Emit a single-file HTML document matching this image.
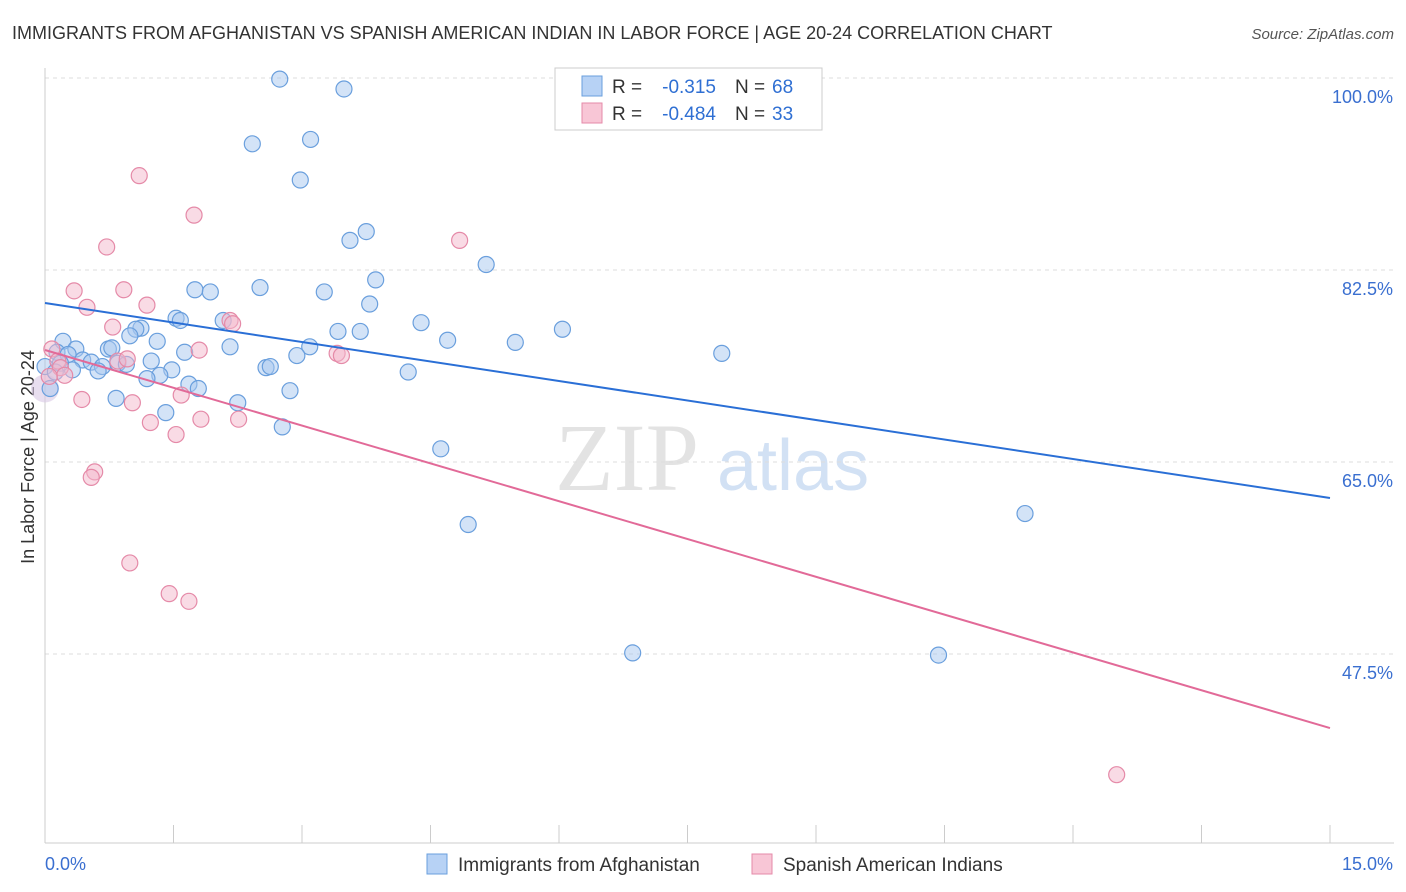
<!DOCTYPE html>
<html><head><meta charset="utf-8">
<style>
body{margin:0;background:#fff;font-family:"Liberation Sans",sans-serif;}
svg{display:block}
</style></head>
<body>
<svg id="chart" width="1406" height="892" viewBox="0 0 1406 892" xmlns="http://www.w3.org/2000/svg">
<text x="12" y="39" font-size="18" fill="#333">IMMIGRANTS FROM AFGHANISTAN VS SPANISH AMERICAN INDIAN IN LABOR FORCE | AGE 20-24 CORRELATION CHART</text>
<text x="1394" y="39" font-size="15" fill="#555" font-style="italic" text-anchor="end">Source: ZipAtlas.com</text>
<text x="555" y="490" font-size="96" fill="#ddd" font-family="Liberation Serif,serif" opacity="0.8">ZIP</text>
<text x="717" y="490" font-size="72" fill="#c8daf2" opacity="0.8">atlas</text>
<text transform="translate(34,457) rotate(-90)" font-size="18" fill="#333" text-anchor="middle">In Labor Force | Age 20-24</text>
<g id="grid"></g>
<g id="axes"></g>
<g id="pts"></g>
<g id="lines"></g>
<g>
<rect x="555" y="68" width="267" height="62" fill="#fff" stroke="#ccc"/>
<rect x="582" y="76" width="20" height="20" fill="#b7d2f5" stroke="#6a9fdd"/>
<rect x="582" y="103" width="20" height="20" fill="#f8c6d6" stroke="#e58aa8"/>
<text x="612" y="93" font-size="19" fill="#333">R =</text>
<text x="716" y="93" font-size="19" fill="#2f6fd3" text-anchor="end">-0.315</text>
<text x="735" y="93" font-size="19" fill="#333">N =</text>
<text x="772" y="93" font-size="19" fill="#2f6fd3">68</text>
<text x="612" y="120" font-size="19" fill="#333">R =</text>
<text x="716" y="120" font-size="19" fill="#2f6fd3" text-anchor="end">-0.484</text>
<text x="735" y="120" font-size="19" fill="#333">N =</text>
<text x="772" y="120" font-size="19" fill="#2f6fd3">33</text>
</g>
<g>
<rect x="427" y="854" width="20" height="20" fill="#b7d2f5" stroke="#6a9fdd"/>
<text x="458" y="871" font-size="19" fill="#333">Immigrants from Afghanistan</text>
<rect x="752" y="854" width="20" height="20" fill="#f8c6d6" stroke="#e58aa8"/>
<text x="783" y="871" font-size="19" fill="#333">Spanish American Indians</text>
</g>
</svg>
<script>
const xTicks=[0,1.5,3,4.5,6,7.5,9,10.5,12,13.5,15];
const yTicks=[100,82.5,65,47.5];
const yTickLabels=["100.0%","82.5%","65.0%","47.5%"];
const blueX=[2.74,3.49,2.42,3.10,2.98,3.75,3.56,5.15,3.86,2.51,3.26,1.75,1.93,3.79,1.53,1.58,2.08,4.39,6.04,3.42,3.68,4.70,5.49,2.16,3.09,0.21,1.12,1.06,0.99,1.31,0.74,0.78,0.36,0.14,0.27,1.63,2.94,7.90,0.44,0.54,0.85,0.95,0.67,1.24,2.58,2.63,4.24,0.62,0.32,1.48,1.34,1.19,1.68,1.79,2.86,0.83,2.25,1.41,2.77,4.62,4.94,11.44,6.86,10.43,0.06,0.0,0.18,0.12];
const blueY=[99.9,99.0,94.0,94.4,90.7,86.0,85.2,83.0,81.6,80.9,80.5,80.7,80.5,79.4,78.1,77.9,77.9,77.7,77.1,76.9,76.9,76.1,75.9,75.5,75.5,76.0,77.2,77.1,76.5,76.0,75.3,75.4,75.3,75.0,74.8,75.0,74.7,74.9,74.3,74.1,74.0,73.9,73.7,74.2,73.6,73.7,73.2,73.3,73.4,73.4,72.9,72.6,72.1,71.7,71.5,70.8,70.4,69.5,68.2,66.2,59.3,60.3,47.6,47.4,71.7,73.7,74.0,73.2];
const pinkX=[1.10,1.74,0.72,4.84,0.92,0.34,0.49,1.19,2.16,2.19,0.79,1.80,3.41,3.46,0.08,0.15,0.18,0.23,0.85,0.96,0.05,0.43,1.02,1.59,1.23,1.53,1.82,2.26,0.58,0.54,0.99,1.45,1.68,12.51];
const pinkY=[91.1,87.5,84.6,85.2,80.7,80.6,79.1,79.3,77.9,77.6,77.3,75.2,74.9,74.7,75.3,74.2,73.6,72.9,74.2,74.4,72.8,70.7,70.4,71.1,68.6,67.5,68.9,68.9,64.1,63.6,55.8,53.0,52.3,36.5];
const blueLine=[79.49,61.72], pinkLine=[75.21,40.75];
const X=v=>45+v/15*1285, Y=v=>78+(100-v)/17.5*192;
const NS="http://www.w3.org/2000/svg";
function mk(tag,attrs,parent){const e=document.createElementNS(NS,tag);for(const k in attrs)e.setAttribute(k,attrs[k]);parent.appendChild(e);return e;}
const grid=document.getElementById('grid'),axes=document.getElementById('axes'),pts=document.getElementById('pts'),lines=document.getElementById('lines');
yTicks.forEach((t,i)=>{
 const l=mk('line',{x1:45,x2:1394,y1:Y(t),y2:Y(t),stroke:'#ddd','stroke-dasharray':'4,4'},grid);
 
 
 const tx=mk('text',{x:1393,y:Y(t)+25,'font-size':18,fill:'#3a6fd0','text-anchor':'end'},axes);
 tx.textContent=yTickLabels[i];
 
 
});
const yax=mk('line',{x1:45,x2:45,y1:68,y2:843,stroke:'#ccc'},axes);


const xax=mk('line',{x1:45,x2:1394,y1:843,y2:843,stroke:'#ccc'},axes);


xTicks.forEach(t=>{
 const l=mk('line',{x1:X(t),x2:X(t),y1:825,y2:843,stroke:'#ccc'},axes);
 
 
});
const x0=mk('text',{x:45,y:870,'font-size':18,fill:'#3a6fd0'},axes);x0.textContent='0.0%';


const x1=mk('text',{x:1393,y:870,'font-size':18,fill:'#3a6fd0','text-anchor':'end'},axes);x1.textContent='15.0%';


const big=mk('circle',{cx:X(0),cy:Y(71.7),r:14,fill:'#d8c8e4','fill-opacity':0.6},pts);


blueX.forEach((v,i)=>{
 const c=mk('circle',{cx:X(v),cy:Y(blueY[i]),r:8,fill:'#a8c8f0','fill-opacity':0.5,stroke:'#6a9fdd','stroke-width':1.2},pts);
 
 
});
pinkX.forEach((v,i)=>{
 const c=mk('circle',{cx:X(v),cy:Y(pinkY[i]),r:8,fill:'#f4b8cb','fill-opacity':0.5,stroke:'#e58aa8','stroke-width':1.2},pts);
 
 
});
const bl=mk('line',{x1:X(0),y1:Y(blueLine[0]),x2:X(15),y2:Y(blueLine[1]),stroke:'#2a6fd6','stroke-width':2},lines);


const pl=mk('line',{x1:X(0),y1:Y(pinkLine[0]),x2:X(15),y2:Y(pinkLine[1]),stroke:'#e26a98','stroke-width':2},lines);


</script>
</body></html>
